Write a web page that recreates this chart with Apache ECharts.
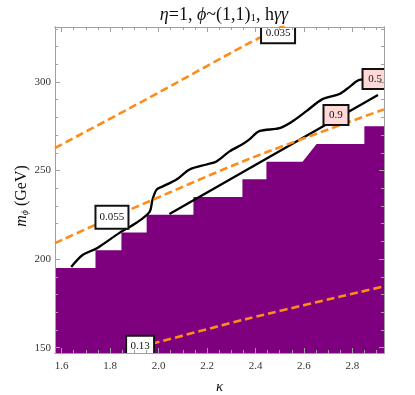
<!DOCTYPE html>
<html>
<head>
<meta charset="utf-8">
<script src="https://cdn.jsdelivr.net/npm/echarts@6/dist/echarts.min.js"></script>
<style>
html, body { margin: 0; padding: 0; background: #fff; }
#chart { width: 415px; height: 395px; }
</style>
</head>
<body>
<div id="chart"></div>
<script>
// ticks
var xMajor = [1.6, 1.8, 2.0, 2.2, 2.4, 2.6, 2.8];
var xMinor = [1.6, 1.65, 1.7, 1.75, 1.8, 1.85, 1.9, 1.95, 2.0, 2.05, 2.1, 2.15, 2.2, 2.25,
  2.3, 2.35, 2.4, 2.45, 2.5, 2.55, 2.6, 2.65, 2.7, 2.75, 2.8, 2.85, 2.9];
var yMajor = [150, 200, 250, 300];
var yMinor = [150, 160, 170, 180, 190, 200, 210, 220, 230, 240, 250, 260, 270, 280, 290,
  300, 310, 320, 330];

// excluded region (staircase boundary)
var excludedK = [1.573, 1.740, 1.740, 1.847, 1.847, 1.951, 1.951, 2.144, 2.144, 2.346, 2.346,
  2.445, 2.445, 2.594, 2.652, 2.849, 2.849, 2.93];
var excludedM = [195, 195, 205, 205, 215, 215, 225, 225, 235, 235, 245, 245, 255, 255, 265,
  265, 275, 275];

// black contour 0.5 (wiggly)
var c05K = [1.640, 1.687, 1.748, 1.839, 1.909, 1.963, 1.975, 1.992, 2.016, 2.074, 2.128, 2.198,
  2.239, 2.293, 2.346, 2.375, 2.416, 2.499, 2.553, 2.610, 2.676, 2.746, 2.788, 2.829, 2.90];
var c05M = [195.6, 202.3, 206.3, 214.8, 220.5, 226.7, 233.5, 239.2, 240.9, 244.9, 250.6, 253.4,
  255.1, 260.8, 264.8, 267.6, 272.2, 273.9, 277.8, 283.5, 290.3, 293.2, 297.2, 301.1, 301.7];

// black contour 0.9 (straight)
var c09K = [2.045, 2.905];
var c09M = [225.5, 292.6];

// orange dashed contours
var c035K = [1.573, 1.951, 2.375, 2.55];
var c035M = [262.7, 290.3, 322.0, 334.0];
var c055K = [1.573, 1.808, 1.880, 2.375, 2.93];
var c055M = [209.0, 223.6, 227.8, 256.6, 284.5];
var c013K = [1.924, 1.984, 2.375, 2.93];
var c013M = [151.1, 152.7, 166.6, 184.6];

// contour labels
var labelText = ['0.035', '0.055', '0.13', '0.9', '0.5'];
var labelK = [2.493, 1.808, 1.924, 2.732, 2.893];
var labelM = [327.8, 223.6, 151.1, 281.3, 301.7];

function pairs(a, b) {
  return a.map(function (v, i) { return [v, b[i]]; });
}

var serif = '"Liberation Serif", "DejaVu Serif", serif';
var frameCol = '#a0a0a0';
var orange = '#ff8c1a';
var purple = '#7f007f';

var boxW = [34, 33, 28, 25, 25];
var boxH = [21, 23, 20, 20, 20];
var boxFill = ['#ffffff', '#ffffff', '#ffffff', '#ffd8d8', '#ffd8d8'];

function axisX(pos, ticks, len, labels, extra) {
  return Object.assign({
    type: 'value', position: pos, min: 1.573, max: 2.93, z: 10,
    axisLine: { show: true, onZero: false, lineStyle: { color: frameCol, width: 1 } },
    axisTick: { show: true, inside: true, length: len, customValues: ticks, lineStyle: { color: frameCol } },
    axisLabel: labels ? {
      show: true, customValues: xMajor, margin: 8, color: '#333', fontSize: 11, fontFamily: serif,
      formatter: function (v) { return v.toFixed(1); }
    } : { show: false },
    splitLine: { show: false }
  }, extra || {});
}

function axisY(pos, ticks, len, labels, extra) {
  return Object.assign({
    type: 'value', position: pos, min: 147, max: 331, z: 10,
    axisLine: { show: true, onZero: false, lineStyle: { color: frameCol, width: 1 } },
    axisTick: { show: true, inside: true, length: len, customValues: ticks, lineStyle: { color: frameCol } },
    axisLabel: labels ? {
      show: true, customValues: yMajor, margin: 4, color: '#333', fontSize: 11, fontFamily: serif
    } : { show: false },
    splitLine: { show: false }
  }, extra || {});
}

var chart = echarts.init(document.getElementById('chart'));

var lineBase = { type: 'line', symbol: 'none', clip: true, silent: true, xAxisIndex: 0, yAxisIndex: 0 };

var option = {
  animation: false,
  backgroundColor: '#fff',
  title: {
    text: '{i|η}=1, {i|ϕ}~(1,1){s|1}, h{i|γγ}',
    left: 219, top: 1, textAlign: 'center',
    textStyle: {
      fontFamily: serif, fontSize: 18, fontWeight: 'normal', color: '#111',
      rich: {
        i: { fontFamily: serif, fontSize: 18, fontStyle: 'italic', color: '#111' },
        s: { fontFamily: serif, fontSize: 11, color: '#111', verticalAlign: 'bottom', padding: [7, 0, 0, 0] }
      }
    }
  },
  grid: { left: 55, right: 31, top: 27, bottom: 42, containLabel: false, outerBoundsMode: 'none' },
  xAxis: [
    axisX('bottom', xMajor, 5, true, {
      name: 'κ', nameLocation: 'middle', nameGap: 27, nameMoveOverlap: false,
      nameTextStyle: { fontFamily: serif, fontSize: 15, fontStyle: 'italic', color: '#111' }
    }),
    axisX('bottom', xMinor, 3, false),
    axisX('top', xMajor, 5, false),
    axisX('top', xMinor, 3, false)
  ],
  yAxis: [
    axisY('left', yMajor, 5, true, {
      name: '{m|m}{s|ϕ} (GeV)', nameLocation: 'middle', nameGap: 25, nameRotate: 90, nameMoveOverlap: false,
      nameTextStyle: {
        fontFamily: serif, fontSize: 16, color: '#111', padding: [0, 12, 0, 0],
        rich: {
          m: { fontFamily: serif, fontSize: 16, fontStyle: 'italic', color: '#111' },
          s: { fontFamily: serif, fontSize: 10, fontStyle: 'italic', color: '#111', verticalAlign: 'bottom', padding: [7, 0, 0, 0] }
        }
      }
    }),
    axisY('left', yMinor, 3, false),
    axisY('right', yMajor, 5, false),
    axisY('right', yMinor, 3, false)
  ],
  series: [
    Object.assign({}, lineBase, {
      data: pairs(excludedK, excludedM),
      lineStyle: { width: 0 },
      areaStyle: { color: purple, opacity: 1, origin: 'start' },
      z: 1
    }),
    Object.assign({}, lineBase, {
      data: pairs(c05K, c05M), smooth: 0.3,
      lineStyle: { color: '#000', width: 2.3 }, z: 3
    }),
    Object.assign({}, lineBase, {
      data: pairs(c09K, c09M),
      lineStyle: { color: '#000', width: 2.3 }, z: 3
    }),
    Object.assign({}, lineBase, {
      data: pairs(c035K, c035M), smooth: 0.3,
      lineStyle: { color: orange, width: 2.6, type: [8, 4] }, z: 4
    }),
    Object.assign({}, lineBase, {
      data: pairs(c055K, c055M), smooth: 0.3,
      lineStyle: { color: orange, width: 2.6, type: [8, 4] }, z: 4
    }),
    Object.assign({}, lineBase, {
      data: pairs(c013K, c013M), smooth: 0.3,
      lineStyle: { color: orange, width: 2.6, type: [8, 4] }, z: 4
    }),
    {
      type: 'custom', clip: true, silent: true, xAxisIndex: 0, yAxisIndex: 0, z: 6,
      data: labelK.map(function (k, i) { return [k, labelM[i], i]; }),
      renderItem: function (params, api) {
        var i = api.value(2);
        var p = api.coord([api.value(0), api.value(1)]);
        var w = boxW[i], h = boxH[i];
        return {
          type: 'group',
          children: [
            { type: 'rect', shape: { x: p[0] - w / 2, y: p[1] - h / 2, width: w, height: h },
              style: { fill: boxFill[i], stroke: '#111', lineWidth: 2 } },
            { type: 'text', style: { text: labelText[i], x: p[0], y: p[1], align: 'center', verticalAlign: 'middle',
              font: '11px ' + serif, fill: '#111' } }
          ]
        };
      }
    }
  ]
};

chart.setOption(option);
</script>
</body>
</html>
